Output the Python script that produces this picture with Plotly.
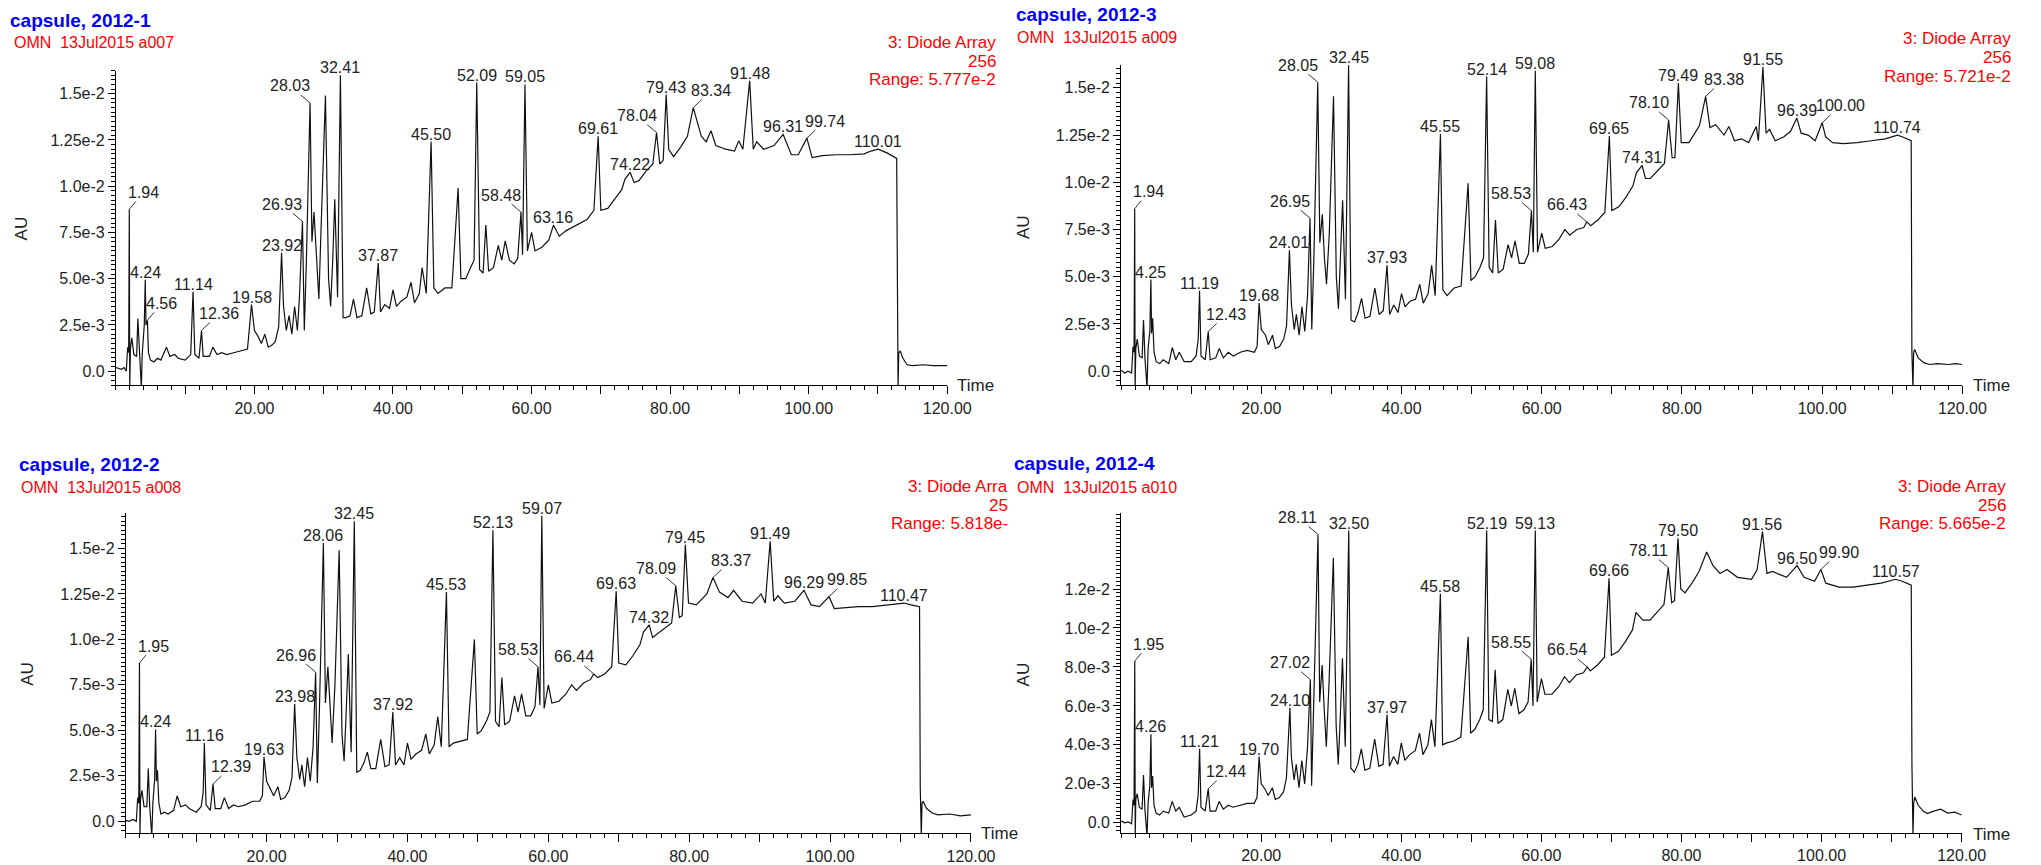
import numpy as np
import plotly.graph_objects as go

W, H = 2041, 865

# ---------------- data: (retention time [min], absorbance [mAU]) ----------------
trace_2012_1 = [
    (0.0, 0.2), (0.4, 0.15), (0.8, 0.1), (1.2, 0.2), (1.5, 0.0), (1.7, 1.3), (1.85, 1.0), (1.94, 8.75),
    (2.0, -0.9), (2.1, 1.2), (2.3, 1.8), (2.6, 0.9), (3.0, 0.8), (3.17, 2.85), (3.4, 0.8), (3.68, -0.9),
    (3.8, 0.9), (4.1, 2.5), (4.24, 4.95), (4.35, 2.5), (4.56, 2.75), (4.7, 1.0), (5.0, 0.6), (5.5, 0.5),
    (6.0, 0.7), (6.5, 0.6), (7.3, 1.3), (7.8, 0.8), (8.5, 0.9), (9.0, 0.7), (10.0, 0.6), (10.8, 0.9),
    (11.14, 4.3), (11.4, 0.9), (12.0, 0.7), (12.36, 2.2), (12.6, 0.8), (13.5, 0.8), (14.0, 1.3),
    (14.6, 0.9), (15.3, 1.0), (16.0, 0.9), (17.0, 1.0), (18.0, 1.1), (19.0, 1.2), (19.58, 3.6),
    (20.0, 2.2), (20.5, 1.9), (21.0, 1.5), (21.5, 2.0), (22.0, 1.3), (22.5, 1.4), (23.0, 1.6),
    (23.5, 2.4), (23.92, 6.4), (24.2, 3.5), (24.6, 2.2), (25.0, 3.0), (25.4, 2.0), (25.8, 3.5),
    (26.2, 2.2), (26.5, 4.0), (26.93, 8.1), (27.2, 2.2), (27.5, 6.0), (28.03, 14.5), (28.3, 7.0),
    (28.6, 8.6), (29.0, 6.2), (29.3, 3.9), (29.6, 7.5), (30.25, 14.9), (30.7, 5.0), (31.0, 3.5),
    (31.3, 6.0), (31.6, 9.3), (32.0, 4.0), (32.41, 16.0), (32.8, 2.9), (33.2, 2.9), (33.8, 3.0),
    (34.3, 3.9), (34.8, 2.9), (35.5, 3.0), (36.2, 4.5), (36.8, 3.1), (37.3, 3.2), (37.87, 5.85),
    (38.2, 3.2), (38.8, 3.6), (39.5, 3.4), (40.0, 4.4), (40.5, 3.5), (41.2, 3.8), (42.0, 4.0),
    (42.6, 4.8), (43.1, 3.7), (43.8, 4.2), (44.2, 5.6), (44.8, 4.2), (45.50, 12.4), (45.9, 4.5),
    (46.5, 4.2), (47.5, 4.5), (48.5, 4.5), (49.4, 9.9), (49.8, 5.0), (50.5, 5.0), (51.2, 5.6),
    (51.7, 6.0), (52.09, 15.6), (52.5, 5.5), (53.0, 5.3), (53.4, 7.9), (53.8, 5.4), (54.5, 5.6),
    (55.2, 6.8), (55.7, 6.0), (56.2, 7.05), (56.8, 6.0), (57.5, 5.8), (58.0, 6.1), (58.48, 8.6),
    (58.7, 6.3), (59.05, 15.5), (59.4, 6.5), (60.0, 7.5), (60.5, 6.5), (61.5, 6.7), (62.5, 7.1),
    (63.16, 7.9), (64.0, 7.3), (65.0, 7.6), (66.0, 7.8), (67.0, 8.0), (68.0, 8.2), (69.0, 8.7),
    (69.61, 12.7), (70.0, 8.7), (71.0, 8.8), (72.0, 9.3), (73.0, 9.8), (73.5, 10.4), (74.22, 10.75),
    (74.8, 10.2), (75.5, 10.3), (76.5, 10.8), (77.5, 11.2), (78.04, 12.9), (78.5, 11.2), (79.0, 11.4),
    (79.43, 14.95), (79.8, 12.0), (80.5, 11.6), (81.5, 12.1), (82.5, 12.7), (83.34, 14.25),
    (84.5, 12.7), (85.2, 12.4), (85.9, 13.0), (86.6, 12.2), (88.0, 12.0), (89.3, 11.9), (89.9, 12.45),
    (90.5, 12.0), (91.48, 15.7), (92.0, 12.0), (92.5, 12.4), (93.5, 12.0), (95.0, 12.2), (96.31, 12.8),
    (97.5, 11.7), (98.5, 11.7), (99.74, 12.6), (100.5, 11.55), (102.0, 11.65), (104.0, 11.7),
    (106.0, 11.7), (108.0, 11.75), (109.0, 11.9), (110.01, 12.0), (111.3, 11.8), (112.7, 11.5),
    (112.8, 1.9), (112.9, -0.9), (113.0, 1.0), (113.2, 1.1), (113.6, 0.7), (114.2, 0.35), (115.0, 0.3),
    (116.5, 0.35), (118.0, 0.3), (120.0, 0.3),
]

trace_2012_3 = [
    (0.0, 0.05), (0.5, -0.1), (1.0, 0.0), (1.5, -0.1), (1.7, 1.3), (1.85, 1.0), (1.94, 8.6), (2.0, -0.9),
    (2.1, 1.2), (2.3, 1.7), (2.6, 0.8), (3.0, 0.7), (3.2, 2.7), (3.4, 0.7), (3.7, -0.9), (3.85, 1.2),
    (4.1, 2.1), (4.25, 4.85), (4.35, 2.0), (4.5, 2.8), (4.7, 1.0), (5.0, 0.5), (5.5, 0.4), (6.0, 0.6),
    (6.8, 0.4), (7.3, 1.25), (7.8, 0.6), (8.3, 1.0), (9.0, 0.5), (10.0, 0.5), (10.7, 0.8), (11.0, 1.7),
    (11.19, 4.25), (11.4, 0.8), (12.0, 0.6), (12.43, 2.1), (12.7, 0.6), (13.5, 0.7), (14.0, 1.2),
    (14.6, 0.7), (15.3, 1.0), (16.0, 0.8), (17.0, 1.0), (18.0, 1.1), (19.0, 1.0), (19.4, 1.3),
    (19.68, 3.6), (20.0, 2.2), (20.6, 1.9), (21.0, 1.4), (21.6, 1.9), (22.0, 1.2), (22.6, 1.3),
    (23.2, 1.7), (23.6, 2.4), (24.01, 6.4), (24.3, 3.5), (24.7, 2.2), (25.0, 3.0), (25.4, 1.9),
    (25.8, 3.4), (26.2, 2.1), (26.6, 4.0), (26.95, 8.1), (27.2, 2.2), (27.5, 6.0), (28.05, 15.3),
    (28.35, 6.8), (28.7, 8.3), (29.0, 6.0), (29.3, 4.6), (29.7, 7.3), (30.3, 14.55), (30.7, 5.0),
    (31.0, 3.3), (31.3, 6.0), (31.6, 9.05), (32.0, 3.8), (32.45, 16.2), (32.8, 2.7), (33.3, 2.6),
    (33.8, 3.1), (34.3, 3.85), (34.8, 2.8), (35.5, 2.9), (36.2, 4.4), (36.8, 3.0), (37.4, 3.2),
    (37.93, 5.6), (38.3, 3.0), (38.9, 3.5), (39.5, 3.1), (40.0, 4.1), (40.5, 3.4), (41.2, 3.7),
    (42.0, 3.8), (42.6, 4.6), (43.1, 3.6), (43.8, 4.1), (44.3, 5.6), (44.8, 4.0), (45.55, 12.55),
    (45.9, 4.3), (46.5, 4.0), (47.5, 4.4), (48.5, 4.5), (49.5, 9.95), (49.9, 4.8), (50.5, 5.0),
    (51.2, 5.5), (51.7, 6.0), (52.14, 15.6), (52.5, 5.5), (53.0, 5.2), (53.4, 8.0), (53.8, 5.2),
    (54.5, 5.4), (55.2, 6.7), (55.7, 6.0), (56.2, 6.9), (56.8, 5.7), (57.5, 5.7), (58.1, 6.2),
    (58.53, 8.5), (58.8, 6.3), (59.08, 15.9), (59.4, 6.3), (60.0, 7.3), (60.5, 6.5), (61.5, 6.6),
    (62.5, 7.0), (63.3, 7.5), (64.0, 7.2), (65.0, 7.5), (66.0, 7.6), (66.43, 7.9), (67.0, 7.7),
    (68.0, 8.0), (69.0, 8.4), (69.65, 12.45), (70.0, 8.5), (71.0, 8.7), (72.0, 9.2), (73.0, 9.8),
    (73.5, 10.5), (74.31, 10.9), (74.8, 10.2), (75.5, 10.2), (76.5, 10.6), (77.5, 11.0), (78.10, 13.3),
    (78.6, 11.3), (79.0, 11.3), (79.49, 15.25), (79.9, 12.1), (81.0, 12.1), (82.5, 13.0), (83.38, 14.55),
    (84.0, 12.9), (84.8, 13.05), (86.0, 12.5), (86.7, 12.95), (87.5, 12.2), (88.5, 12.3), (89.5, 12.1),
    (90.6, 12.95), (90.9, 12.2), (91.55, 16.1), (92.0, 12.6), (92.5, 12.8), (93.3, 12.2), (94.5, 12.4),
    (95.5, 12.7), (96.39, 13.4), (97.0, 12.6), (98.0, 12.5), (99.0, 12.2), (100.0, 13.15), (100.5, 12.4),
    (101.5, 12.1), (103.0, 12.05), (105.0, 12.1), (107.0, 12.2), (109.0, 12.3), (110.74, 12.5),
    (111.5, 12.4), (112.7, 12.2), (112.8, 1.05), (112.95, -0.9), (113.05, 1.0), (113.2, 1.14),
    (113.7, 0.7), (114.5, 0.45), (115.3, 0.35), (116.5, 0.4), (118.0, 0.35), (119.0, 0.4), (120.0, 0.35),
]

trace_2012_2 = [
    (0.0, 0.05), (0.5, 0.0), (1.0, 0.1), (1.5, 0.0), (1.7, 1.3), (1.85, 1.0), (1.95, 8.7), (2.02, -0.8),
    (2.1, 1.2), (2.3, 1.7), (2.6, 0.8), (3.0, 0.8), (3.2, 2.9), (3.4, 0.8), (3.7, -0.8), (3.85, 1.0),
    (4.1, 2.3), (4.24, 5.05), (4.35, 2.2), (4.5, 2.8), (4.7, 1.0), (5.0, 0.4), (5.5, 0.5), (6.0, 0.4),
    (6.8, 0.6), (7.3, 1.4), (7.8, 0.8), (8.5, 0.9), (9.0, 0.7), (10.0, 0.5), (10.7, 0.8), (11.0, 1.6),
    (11.16, 4.3), (11.4, 0.9), (12.0, 0.6), (12.39, 2.05), (12.7, 0.7), (13.5, 0.7), (14.0, 1.3),
    (14.6, 0.7), (15.3, 0.9), (16.0, 0.8), (17.0, 0.9), (18.0, 1.1), (19.0, 1.1), (19.4, 1.4),
    (19.63, 3.55), (20.0, 2.2), (20.6, 1.7), (21.0, 1.4), (21.6, 1.9), (22.0, 1.2), (22.6, 1.3),
    (23.2, 1.7), (23.6, 2.4), (23.98, 6.45), (24.3, 3.5), (24.7, 2.3), (25.0, 3.1), (25.4, 1.9),
    (25.8, 3.5), (26.2, 2.2), (26.6, 4.1), (26.96, 8.2), (27.2, 2.1), (27.5, 6.2), (28.06, 15.3),
    (28.35, 6.5), (28.7, 8.5), (29.0, 6.2), (29.3, 4.3), (29.7, 7.5), (30.3, 14.9), (30.7, 4.8),
    (31.0, 3.3), (31.3, 6.0), (31.6, 9.2), (32.0, 3.8), (32.45, 16.5), (32.8, 2.7), (33.3, 2.8),
    (33.8, 3.2), (34.3, 3.8), (34.8, 2.9), (35.5, 2.9), (36.2, 4.5), (36.8, 3.0), (37.4, 3.1),
    (37.92, 6.0), (38.3, 3.1), (38.9, 3.5), (39.5, 3.1), (40.0, 4.3), (40.5, 3.4), (41.2, 3.7),
    (42.0, 3.9), (42.6, 4.8), (43.1, 3.7), (43.8, 4.2), (44.3, 5.75), (44.8, 4.1), (45.53, 12.6),
    (45.9, 4.1), (46.5, 4.3), (47.5, 4.4), (48.5, 4.5), (49.5, 10.0), (49.9, 4.8), (50.5, 5.0),
    (51.2, 5.5), (51.7, 6.0), (52.13, 16.0), (52.5, 5.5), (53.0, 5.2), (53.4, 7.9), (53.8, 5.3),
    (54.5, 5.5), (55.2, 6.9), (55.7, 6.0), (56.2, 7.0), (56.8, 5.8), (57.5, 5.8), (58.1, 6.3),
    (58.53, 8.5), (58.8, 6.4), (59.07, 16.8), (59.4, 6.2), (60.0, 7.5), (60.5, 6.5), (61.5, 6.6),
    (62.5, 7.0), (63.3, 7.5), (64.0, 7.2), (65.0, 7.6), (66.0, 7.8), (66.44, 8.1), (67.0, 7.9),
    (68.0, 8.1), (69.0, 8.5), (69.63, 12.65), (70.0, 8.7), (71.0, 8.6), (72.0, 9.1), (73.0, 9.7),
    (73.5, 10.4), (74.32, 10.8), (74.8, 10.1), (75.5, 10.3), (76.5, 10.6), (77.5, 10.9), (78.09, 12.95),
    (78.6, 11.2), (79.0, 11.3), (79.45, 15.2), (79.9, 12.0), (81.0, 11.9), (82.5, 12.5), (83.37, 13.4),
    (84.3, 12.6), (85.5, 12.3), (86.3, 12.7), (87.5, 12.1), (89.0, 12.0), (90.2, 12.5), (90.8, 12.0),
    (91.49, 15.4), (92.0, 12.1), (92.6, 12.4), (93.5, 12.0), (95.0, 12.1), (96.29, 12.7), (97.3, 11.9),
    (98.5, 11.8), (99.85, 12.35), (100.6, 11.7), (102.0, 11.75), (104.0, 11.8), (106.0, 11.8),
    (108.0, 11.9), (110.47, 12.0), (111.5, 11.9), (112.7, 11.8), (112.8, 1.9), (112.95, -0.8),
    (113.05, 1.0), (113.2, 1.1), (113.7, 0.7), (114.5, 0.45), (115.3, 0.35), (117.0, 0.4),
    (118.5, 0.3), (120.0, 0.35),
]

trace_2012_4 = [
    (0.0, 0.1), (0.5, 0.0), (1.0, 0.05), (1.5, -0.05), (1.7, 1.2), (1.85, 0.9), (1.95, 8.3), (2.02, -0.7),
    (2.1, 1.2), (2.3, 1.5), (2.6, 0.8), (3.0, 0.7), (3.2, 2.45), (3.4, 0.7), (3.7, -0.7), (3.85, 1.0),
    (4.1, 1.9), (4.26, 4.55), (4.35, 1.8), (4.5, 2.4), (4.7, 0.9), (5.0, 0.5), (5.5, 0.4), (6.0, 0.6),
    (6.8, 0.5), (7.3, 1.1), (7.8, 0.6), (8.3, 0.8), (9.0, 0.3), (10.0, 0.4), (10.7, 0.6), (11.0, 1.4),
    (11.21, 3.8), (11.4, 0.8), (12.0, 0.6), (12.44, 1.75), (12.7, 0.6), (13.5, 0.6), (14.0, 1.1),
    (14.6, 0.7), (15.3, 0.9), (16.0, 0.8), (17.0, 0.9), (18.0, 1.0), (19.0, 1.0), (19.4, 1.3),
    (19.70, 3.4), (20.0, 2.0), (20.6, 1.7), (21.0, 1.4), (21.6, 1.8), (22.0, 1.2), (22.6, 1.3),
    (23.2, 1.6), (23.6, 2.3), (24.10, 5.9), (24.3, 3.4), (24.7, 2.2), (25.0, 3.0), (25.4, 1.8),
    (25.8, 3.2), (26.2, 2.0), (26.6, 3.8), (27.02, 7.35), (27.2, 1.9), (27.5, 6.0), (28.11, 14.8),
    (28.35, 6.2), (28.7, 8.1), (29.0, 5.8), (29.3, 3.9), (29.7, 7.3), (30.3, 13.6), (30.7, 5.0),
    (31.0, 3.0), (31.3, 5.5), (31.6, 8.45), (32.0, 3.9), (32.50, 15.0), (32.8, 2.8), (33.3, 2.6),
    (33.8, 3.0), (34.3, 3.8), (34.8, 2.7), (35.5, 2.8), (36.2, 4.3), (36.8, 2.9), (37.4, 3.0),
    (37.97, 5.55), (38.3, 2.9), (38.9, 3.4), (39.5, 3.0), (40.0, 4.1), (40.5, 3.2), (41.2, 3.5),
    (42.0, 3.7), (42.6, 4.6), (43.1, 3.5), (43.8, 4.0), (44.3, 5.3), (44.8, 3.9), (45.58, 11.75),
    (45.9, 4.0), (46.5, 4.1), (47.5, 4.2), (48.5, 4.4), (49.55, 9.55), (49.9, 4.6), (50.5, 4.8),
    (51.2, 5.3), (51.7, 5.8), (52.19, 15.0), (52.5, 5.3), (53.0, 5.2), (53.4, 7.85), (53.8, 5.1),
    (54.5, 5.3), (55.2, 6.85), (55.7, 6.0), (56.2, 6.9), (56.8, 5.6), (57.5, 5.8), (58.1, 6.2),
    (58.55, 8.4), (58.8, 6.0), (59.13, 15.0), (59.4, 6.2), (60.0, 7.4), (60.5, 6.6), (61.5, 6.6),
    (62.5, 7.0), (63.3, 7.5), (64.0, 7.2), (65.0, 7.6), (66.0, 7.7), (66.54, 8.0), (67.0, 7.8),
    (68.0, 8.1), (69.0, 8.5), (69.66, 12.55), (70.0, 8.6), (71.0, 8.8), (72.0, 9.3), (73.0, 9.9),
    (73.5, 10.8), (74.5, 10.4), (75.5, 10.4), (76.5, 10.8), (77.5, 11.2), (78.11, 13.1), (78.6, 11.3),
    (79.0, 11.4), (79.50, 14.6), (79.9, 12.0), (80.5, 11.8), (81.5, 12.3), (82.5, 12.9), (83.6, 13.9),
    (84.5, 13.2), (85.5, 12.8), (86.5, 13.0), (88.0, 12.6), (90.0, 12.5), (90.8, 13.0), (91.56, 14.95),
    (92.2, 12.8), (93.0, 12.9), (95.0, 12.6), (96.50, 13.2), (97.5, 12.6), (99.0, 12.4), (99.90, 13.0),
    (100.6, 12.3), (102.5, 12.1), (104.5, 12.1), (106.5, 12.2), (108.5, 12.3), (110.57, 12.5),
    (111.5, 12.4), (112.8, 12.2), (112.9, 3.0), (113.05, -0.7), (113.15, 1.0), (113.3, 1.33),
    (113.8, 0.9), (114.5, 0.6), (115.1, 0.48), (116.0, 0.6), (117.0, 0.7), (118.0, 0.5), (119.0, 0.55),
    (120.0, 0.4),
]

# labelled peak retention times and label placement kind (U above, L leader left, R / r leader right)
peaks_2012_1 = [1.94, 4.24, 4.56, 11.14, 12.36, 19.58, 23.92, 26.93, 28.03, 32.41, 37.87, 45.50, 52.09,
                58.48, 59.05, 63.16, 69.61, 74.22, 78.04, 79.43, 83.34, 91.48, 96.31, 99.74, 110.01]
kinds_2012_1 = ["r", "U", "r", "U", "R", "U", "U", "L", "L", "U", "U", "U", "U",
                "L", "U", "U", "U", "U", "L", "U", "R", "U", "U", "R", "U"]
peaks_2012_3 = [1.94, 4.25, 11.19, 12.43, 19.68, 24.01, 26.95, 28.05, 32.45, 37.93, 45.55, 52.14, 58.53,
                59.08, 66.43, 69.65, 74.31, 78.10, 79.49, 83.38, 91.55, 96.39, 100.00, 110.74]
kinds_2012_3 = ["r", "U", "U", "R", "U", "U", "L", "L", "U", "U", "U", "U", "L",
                "U", "L", "U", "U", "L", "U", "R", "U", "U", "R", "U"]
peaks_2012_2 = [1.95, 4.24, 11.16, 12.39, 19.63, 23.98, 26.96, 28.06, 32.45, 37.92, 45.53, 52.13, 58.53,
                59.07, 66.44, 69.63, 74.32, 78.09, 79.45, 83.37, 91.49, 96.29, 99.85, 110.47]
kinds_2012_2 = ["r", "U", "U", "R", "U", "U", "L", "U", "U", "U", "U", "U", "L",
                "U", "L", "U", "U", "L", "U", "R", "U", "U", "R", "U"]
peaks_2012_4 = [1.95, 4.26, 11.21, 12.44, 19.70, 24.10, 27.02, 28.11, 32.50, 37.97, 45.58, 52.19, 58.55,
                59.13, 66.54, 69.66, 78.11, 79.50, 91.56, 96.50, 99.90, 110.57]
kinds_2012_4 = ["r", "U", "U", "R", "U", "U", "L", "L", "U", "U", "U", "U", "L",
                "U", "L", "U", "L", "U", "U", "U", "R", "U"]

titles = ["capsule, 2012-1", "capsule, 2012-3", "capsule, 2012-2", "capsule, 2012-4"]
runs = ["OMN  13Jul2015 a007", "OMN  13Jul2015 a009", "OMN  13Jul2015 a008", "OMN  13Jul2015 a010"]
ranges_txt = ["Range: 5.777e-2", "Range: 5.721e-2", "Range: 5.818e-", "Range: 5.665e-2"]
detector_txt = ["3: Diode Array", "3: Diode Array", "3: Diode Arra", "3: Diode Array"]
channel_txt = ["256", "256", "25", "256"]

y_ticks_a = [0.0, 2.5, 5.0, 7.5, 10.0, 12.5, 15.0]
y_ticktext_a = ["0.0", "2.5e-3", "5.0e-3", "7.5e-3", "1.0e-2", "1.25e-2", "1.5e-2"]
y_ticks_b = [0.0, 2.0, 4.0, 6.0, 8.0, 10.0, 12.0]
y_ticktext_b = ["0.0", "2.0e-3", "4.0e-3", "6.0e-3", "8.0e-3", "1.0e-2", "1.2e-2"]
x_ticks = [10, 20, 30, 40, 50, 60, 70, 80, 90, 100, 110, 120]
x_ticktext = ["", "20.00", "", "40.00", "", "60.00", "", "80.00", "", "100.00", "", "120.00"]

# ---------------- layout geometry (pixels) ----------------
FONT = "Liberation Sans, Arial, sans-serif"
panels = [
    dict(tr=trace_2012_1, pk=peaks_2012_1, kd=kinds_2012_1, box=(117.3, 959.0, 71, 387.7),
         yr=(-0.77, 16.25), yt=y_ticks_a, ytt=y_ticktext_a, ym=0.25,
         title=(8, 21), run=(12, 43), diode=(1010, [43, 62, 80]), au=(22, 230), time=(967, 388)),
    dict(tr=trace_2012_3, pk=peaks_2012_3, kd=kinds_2012_3, box=(1135.0, 1986.7, 65, 387.7),
         yr=(-0.76, 16.23), yt=y_ticks_a, ytt=y_ticktext_a, ym=0.25,
         title=(1027, 15), run=(1028, 38), diode=(2038, [39, 58, 77]), au=(1036, 228), time=(1995, 388)),
    dict(tr=trace_2012_2, pk=peaks_2012_2, kd=kinds_2012_2, box=(127.3, 983.0, 516, 838.3),
         yr=(-0.67, 16.95), yt=y_ticks_a, ytt=y_ticktext_a, ym=0.25,
         title=(17, 467), run=(19, 490), diode=(1023, [489, 508, 527]), au=(27, 678), time=(991, 838)),
    dict(tr=trace_2012_4, pk=peaks_2012_4, kd=kinds_2012_4, box=(1135.0, 1986.0, 516, 838.0),
         yr=(-0.53, 15.9), yt=y_ticks_b, ytt=y_ticktext_b, ym=0.2,
         title=(1025, 466), run=(1028, 490), diode=(2033, [489, 508, 527]), au=(1036, 678), time=(1995, 839)),
]

OFFS = {"L": (-20, -17), "R": (18, -17), "r": (14, -17)}

fig = go.Figure()
annotations = []
layout_axes = {}


def px(x):
    return x / W


def py(y):
    return 1 - y / H


for i, p in enumerate(panels):
    n = "" if i == 0 else str(i + 1)
    xa, ya = "x" + n, "y" + n
    t = np.array([a for a, b in p["tr"]])
    v = np.array([b for a, b in p["tr"]]) * 1e-3
    fig.add_trace(go.Scatter(x=t, y=v, mode="lines", xaxis=xa, yaxis=ya,
                             line=dict(color="#111111", width=1.2), hoverinfo="skip", showlegend=False))
    l, r, tp, bt = p["box"]
    layout_axes["xaxis" + n] = dict(
        domain=[px(l), px(r)], anchor=ya, range=[0, 120], showline=True, linecolor="black", linewidth=1,
        showgrid=False, zeroline=False, ticks="outside", ticklen=8, tickcolor="black", tickwidth=1,
        tickmode="array", tickvals=x_ticks, ticktext=x_ticktext,
        tickfont=dict(family=FONT, size=16, color="#222"),
        minor=dict(dtick=2, tick0=0, ticks="outside", ticklen=4, tickcolor="black", tickwidth=1, showgrid=False),
    )
    layout_axes["yaxis" + n] = dict(
        domain=[py(bt), py(tp)], anchor=xa, range=[p["yr"][0] * 1e-3, p["yr"][1] * 1e-3],
        showline=True, linecolor="black", linewidth=1, showgrid=False, zeroline=False,
        ticks="outside", ticklen=7, tickcolor="black", tickwidth=1,
        tickmode="array", tickvals=[q * 1e-3 for q in p["yt"]], ticktext=p["ytt"],
        tickfont=dict(family=FONT, size=16, color="#222"),
        minor=dict(dtick=p["ym"] * 1e-3, tick0=0, ticks="outside", ticklen=4, tickcolor="black",
                   tickwidth=1, showgrid=False),
    )
    # peak labels
    for pk, kd in zip(p["pk"], p["kd"]):
        yv = float(np.interp(pk, t, v))
        txt = f"{pk:.2f}"
        if kd == "U":
            annotations.append(dict(x=pk, y=yv, xref=xa, yref=ya, text=txt, showarrow=False,
                                    xanchor="center", yanchor="bottom", yshift=-3,
                                    font=dict(family=FONT, size=16, color="#222")))
        else:
            dx, dy = OFFS[kd]
            annotations.append(dict(x=pk, y=yv, xref=xa, yref=ya, text=txt, showarrow=True,
                                    arrowhead=0, arrowwidth=1, arrowcolor="#333", ax=dx, ay=dy,
                                    standoff=0, borderpad=0,
                                    font=dict(family=FONT, size=16, color="#222")))
    # header texts
    annotations.append(dict(x=px(p["title"][0]), y=py(p["title"][1]), xref="paper", yref="paper",
                            text="<b>" + titles[i] + "</b>", showarrow=False, xanchor="left", yanchor="middle",
                            font=dict(family=FONT, size=19, color="#0000ff")))
    annotations.append(dict(x=px(p["run"][0]), y=py(p["run"][1]), xref="paper", yref="paper",
                            text=runs[i], showarrow=False, xanchor="left", yanchor="middle",
                            font=dict(family=FONT, size=16, color="#ff0000")))
    for txt, yy in zip([detector_txt[i], channel_txt[i], ranges_txt[i]], p["diode"][1]):
        annotations.append(dict(x=px(p["diode"][0]), y=py(yy), xref="paper", yref="paper",
                                text=txt, showarrow=False, xanchor="right", yanchor="middle",
                                font=dict(family=FONT, size=17, color="#ff0000")))
    annotations.append(dict(x=px(p["au"][0]), y=py(p["au"][1]), xref="paper", yref="paper",
                            text="AU", showarrow=False, textangle=-90, xanchor="center", yanchor="middle",
                            font=dict(family=FONT, size=17, color="#222")))
    annotations.append(dict(x=px(p["time"][0]), y=py(p["time"][1]), xref="paper", yref="paper",
                            text="Time", showarrow=False, xanchor="left", yanchor="middle",
                            font=dict(family=FONT, size=17, color="#222")))

fig.update_layout(
    width=W, height=H, margin=dict(l=0, r=0, t=0, b=0),
    paper_bgcolor="white", plot_bgcolor="white", showlegend=False,
    annotations=annotations, **layout_axes,
)

fig.write_html("out.html", config={"displayModeBar": False},
               post_script="document.body.style.margin='0px';document.body.style.overflow='hidden';")
